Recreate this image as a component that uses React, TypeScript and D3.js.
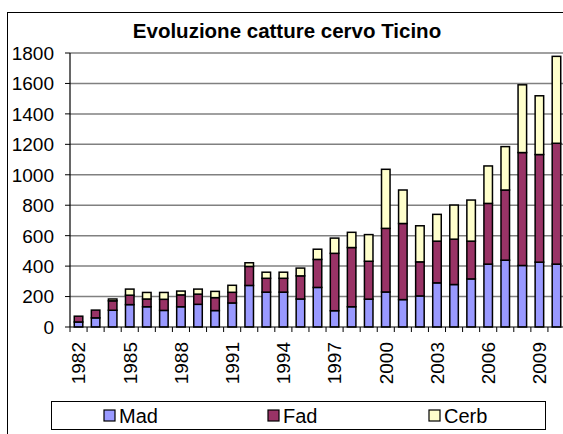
import React from 'react';
import * as d3 from 'd3';

const years = ["1982","1983","1984","1985","1986","1987","1988","1989","1990","1991","1992","1993","1994","1995","1996","1997","1998","1999","2000","2001","2002","2003","2004","2005","2006","2007","2008","2009","2010"];
const mad = [33,60,110,147,133,109,133,149,108,158,273,229,229,184,260,107,133,183,230,180,204,290,279,316,413,439,404,426,413];
const fad = [38,51,62,62,51,73,78,67,85,70,125,91,91,152,184,377,389,249,418,500,224,274,298,248,399,461,742,707,794];
const cerb = [0,0,12,40,43,45,25,33,41,46,24,40,40,51,67,100,100,175,388,220,237,176,224,270,246,285,445,386,571];
const yTicks = [0,200,400,600,800,1000,1200,1400,1600,1800];
const labelYears = ["1982","1985","1988","1991","1994","1997","2000","2003","2006","2009"];
const seriesNames = ["Mad","Fad","Cerb"];
const colors = ["#9999FF","#993366","#FFFFCC"];

const W = 563, H = 434;
const font = "'Liberation Sans', Arial, sans-serif";

export default function App() {
  const left = 70, right = 565, top = 53, bottom = 327;
  const x = d3.scaleBand<string>().domain(years).range([left, right]).paddingInner(0.5).paddingOuter(0.25);
  const y = d3.scaleLinear().domain([0, 1800]).range([bottom, top]);
  const table = years.map((yr, i) => ({ year: yr, Mad: mad[i], Fad: fad[i], Cerb: cerb[i] }));
  const stack = d3.stack<any>().keys(seriesNames)(table);
  const step = x.step();
  const bw = x.bandwidth();

  return (
    <svg width={W} height={H} style={{ position: 'absolute', left: 0, top: 0, background: '#fff' }} fontFamily={font}>
      <rect x={0} y={0} width={W} height={H} fill="#fff" />
      <rect x={7.5} y={12.5} width={700} height={600} fill="#fff" stroke="#000" strokeWidth={1} />
      <text x={287} y={38} textAnchor="middle" fontSize={20.5} fontWeight="bold">Evoluzione catture cervo Ticino</text>
      {yTicks.map(t => (
        <g key={t}>
          {t > 0 && <line x1={left} x2={right} y1={y(t)} y2={y(t)} stroke="#808080" strokeWidth={1.5} />}
          <line x1={left - 5} x2={left} y1={y(t)} y2={y(t)} stroke="#000" strokeWidth={1} />
          <text x={54} y={y(t)} dy="0.36em" textAnchor="end" fontSize={19}>{t}</text>
        </g>
      ))}
      {stack.map((s, si) => (
        <g key={si} fill={colors[si]} stroke="#000" strokeWidth={1.5}>
          {s.map((d, i) => d[1] - d[0] > 0 ? (
            <rect key={i} x={x(years[i])!} width={bw} y={y(d[1])} height={y(d[0]) - y(d[1])} />
          ) : null)}
        </g>
      ))}
      <line x1={left} x2={left} y1={top} y2={bottom} stroke="#000" strokeWidth={1.2} />
      <line x1={left} x2={right} y1={bottom} y2={bottom} stroke="#000" strokeWidth={1.2} />
      {d3.range(years.length + 1).map(k => (
        <line key={k} x1={left + k * step} x2={left + k * step} y1={bottom} y2={bottom + 5} stroke="#000" strokeWidth={1} />
      ))}
      {labelYears.map(yr => {
        const cx = x(yr)! + bw / 2;
        return (
          <text key={yr} transform={`translate(${cx},342) rotate(-90)`} dy="0.36em" textAnchor="end" fontSize={19}>{yr}</text>
        );
      })}
      <rect x={51.5} y={401.5} width={494} height={28} fill="#fff" stroke="#000" strokeWidth={1} />
      {seriesNames.map((n, i) => {
        const sx = [104, 268, 429][i];
        return (
          <g key={n}>
            <rect x={sx} y={410} width={11} height={11} fill={colors[i]} stroke="#000" strokeWidth={1.2} />
            <text x={sx + 15} y={423} fontSize={20}>{n}</text>
          </g>
        );
      })}
    </svg>
  );
}
